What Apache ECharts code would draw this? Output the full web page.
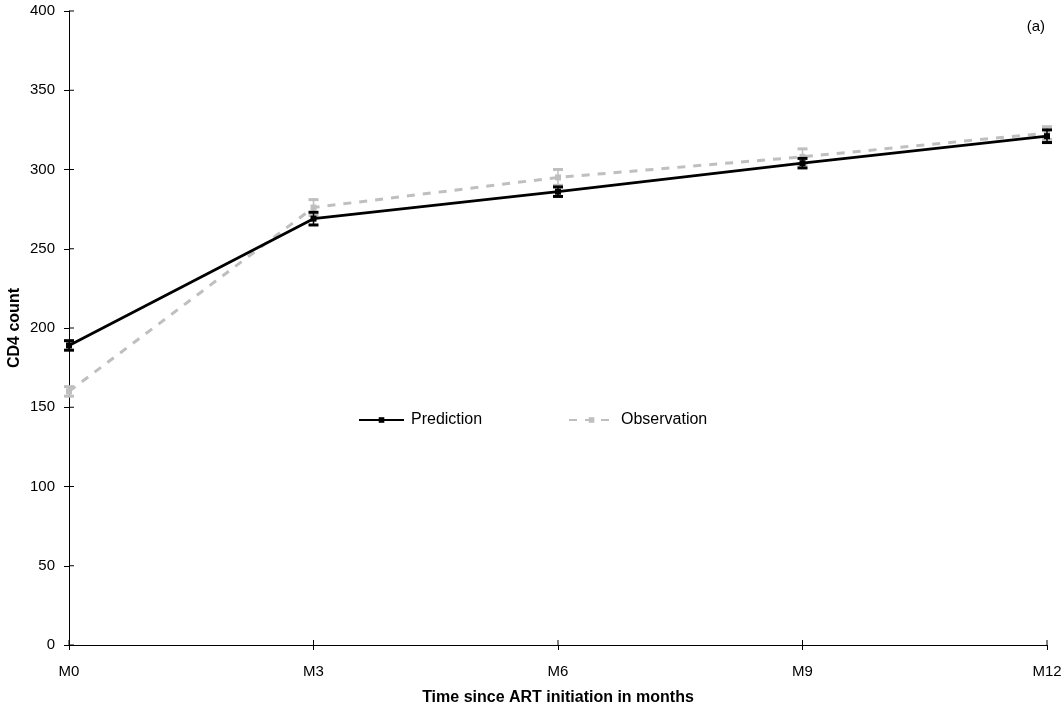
<!DOCTYPE html>
<html>
<head>
<meta charset="utf-8">
<script src="https://cdn.jsdelivr.net/npm/echarts@6/dist/echarts.min.js"></script>
<style>html,body{margin:0;padding:0;background:#fff}#c{width:1062px;height:710px}</style>
</head>
<body>
<div id="c"></div>
<script>
var categories = ['M0', 'M3', 'M6', 'M9', 'M12'];
var prediction = [189, 269, 286, 304, 321];
var predictionErr = [3, 4, 3, 3, 4];
var observation = [160, 276, 295, 308, 323];
var observationErr = [3, 5, 5, 5, 4];
var yTicks = [0, 50, 100, 150, 200, 250, 300, 350, 400];

var chart = echarts.init(document.getElementById('c'));
var font = 'Liberation Sans, Arial, sans-serif';

function errSeries(name, vals, errs, color, z) {
  return {
    type: 'custom',
    name: name,
    z: z,
    data: vals.map(function (v, i) { return [i, v - errs[i], v + errs[i]]; }),
    renderItem: function (params, api) {
      var x = api.value(0);
      var lo = api.coord([x, api.value(1)]);
      var hi = api.coord([x, api.value(2)]);
      var hw = 5;
      return {
        type: 'group',
        children: [
          { type: 'line', shape: { x1: lo[0], y1: lo[1], x2: hi[0], y2: hi[1] }, style: { stroke: color, lineWidth: 1.5 } },
          { type: 'line', shape: { x1: lo[0] - hw, y1: lo[1], x2: lo[0] + hw, y2: lo[1] }, style: { stroke: color, lineWidth: 3 } },
          { type: 'line', shape: { x1: hi[0] - hw, y1: hi[1], x2: hi[0] + hw, y2: hi[1] }, style: { stroke: color, lineWidth: 3 } }
        ]
      };
    }
  };
}

// tick marks crossing the axes (drawn inward; the axis draws the outward half)
function tickSeries(name, data, vertical) {
  return {
    type: 'custom', name: name, z: 1, silent: true,
    clip: false,
    data: data,
    renderItem: function (params, api) {
      var p = vertical ? api.coord([api.value(0), 0]) : api.coord([0, api.value(0)]);
      var shape = vertical
        ? { x1: p[0], y1: p[1], x2: p[0], y2: p[1] - 5 }
        : { x1: p[0], y1: p[1], x2: p[0] + 5, y2: p[1] };
      return { type: 'line', shape: shape, style: { stroke: '#000', lineWidth: 1 } };
    }
  };
}

var legendText = { fontFamily: font, fontSize: 16, color: '#000', padding: [0, 0, 0, 2] };

chart.setOption({
  animation: false,
  backgroundColor: '#fff',
  textStyle: { fontFamily: font },
  grid: { left: 69, right: 15, top: 11, bottom: 65, containLabel: false, outerBoundsMode: 'none' },
  legend: [
    { data: ['Prediction'], left: 358, top: 412, padding: 0,
      itemWidth: 45, itemHeight: 7, textStyle: legendText },
    { data: ['Observation'], left: 568, top: 412, padding: 0,
      itemWidth: 45, itemHeight: 7, textStyle: legendText }
  ],
  graphic: [
    { type: 'text', right: 17, top: 19, style: { text: '(a)', font: '15px ' + font, fill: '#000' } }
  ],
  xAxis: {
    type: 'category',
    data: categories,
    boundaryGap: false,
    name: 'Time since ART initiation in months',
    nameLocation: 'middle',
    nameGap: 45,
    nameMoveOverlap: false,
    nameTextStyle: { fontFamily: font, fontSize: 16, fontWeight: 'bold', color: '#000' },
    axisLine: { lineStyle: { color: '#000', width: 1 } },
    axisTick: { show: true, length: 5, inside: false, lineStyle: { color: '#000' } },
    axisLabel: { fontFamily: font, fontSize: 15, color: '#000', margin: 19 },
    splitLine: { show: false }
  },
  yAxis: {
    type: 'value',
    min: 0, max: 400, interval: 50,
    name: 'CD4 count',
    nameLocation: 'middle',
    nameGap: 46,
    nameMoveOverlap: false,
    nameTextStyle: { fontFamily: font, fontSize: 16, fontWeight: 'bold', color: '#000' },
    axisLine: { show: true, lineStyle: { color: '#000', width: 1 } },
    axisTick: { show: true, length: 5, lineStyle: { color: '#000' } },
    axisLabel: { fontFamily: font, fontSize: 15, color: '#000', margin: 14,
      formatter: function (v) { return yTicks.indexOf(v) >= 0 ? String(v) : ''; } },
    splitLine: { show: false }
  },
  series: [
    tickSeries('yTicksIn', yTicks.map(function (v) { return [v]; }), false),
    tickSeries('xTicksIn', categories.map(function (c, i) { return [i]; }), true),
    {
      name: 'Observation', type: 'line', data: observation, z: 2,
      symbol: 'rect', symbolSize: 6, showSymbol: true,
      itemStyle: { color: '#bfbfbf' },
      lineStyle: { color: '#bfbfbf', width: 3, type: [8, 8] }
    },
    errSeries('obsErr', observation, observationErr, '#bfbfbf', 3),
    {
      name: 'Prediction', type: 'line', data: prediction, z: 4,
      symbol: 'rect', symbolSize: 6, showSymbol: true,
      itemStyle: { color: '#000' },
      lineStyle: { color: '#000', width: 2.8 }
    },
    errSeries('predErr', prediction, predictionErr, '#000', 5)
  ]
});
</script>
</body>
</html>
